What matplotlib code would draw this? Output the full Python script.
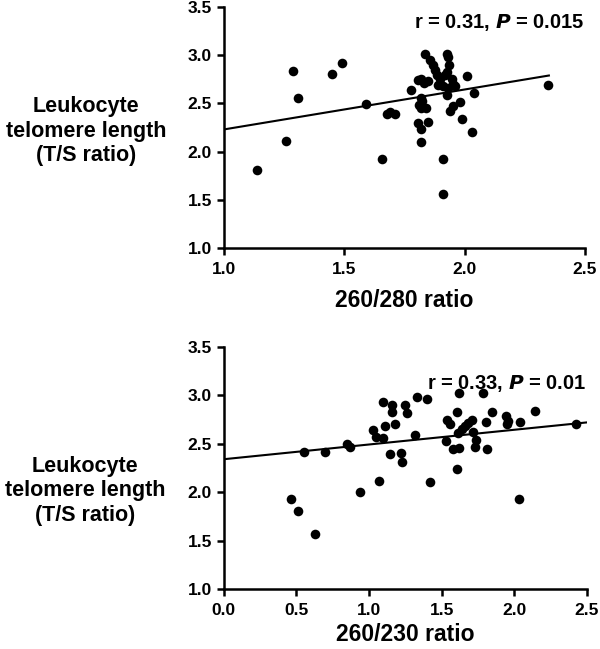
import matplotlib
matplotlib.use("Agg")
from matplotlib import pyplot as plt

plt.rcParams['font.family'] = ['Liberation Sans', 'DejaVu Sans']
plt.rcParams['font.weight'] = 'bold'

# Panel A: 260/280 ratio vs telomere length
x280 = [1.139, 1.258, 1.288, 1.307, 1.449, 1.489, 1.589, 1.656, 1.676, 1.69,
        1.71, 1.777, 1.807, 1.82, 1.83, 1.85, 1.817, 1.825, 1.81, 1.82,
        1.84, 1.807, 1.817, 1.85, 1.817, 1.835, 1.856, 1.87, 1.877, 1.886,
        1.897, 1.89, 1.91, 1.925, 1.93, 1.936, 1.925, 1.918, 1.946, 1.953,
        1.932, 1.927, 1.96, 1.909, 1.909, 1.94, 1.95, 1.98, 1.99, 2.008,
        2.03, 2.04, 2.348]
y280 = [1.81, 2.11, 2.84, 2.56, 2.81, 2.92, 2.49, 1.92, 2.39, 2.41,
        2.39, 2.64, 2.74, 2.75, 2.71, 2.73, 2.56, 2.53, 2.48, 2.45,
        2.45, 2.30, 2.23, 2.31, 2.10, 3.01, 2.95, 2.90, 2.85, 2.80,
        2.75, 2.69, 2.68, 3.01, 2.98, 2.90, 2.83, 2.80, 2.75, 2.70,
        2.66, 2.59, 2.68, 1.92, 1.56, 2.42, 2.47, 2.52, 2.34, 2.78,
        2.20, 2.61, 2.69]
fit280_x = [1.0, 2.35]
fit280_y = [2.23, 2.79]

# Panel B: 260/230 ratio vs telomere length
x230 = [0.466, 0.508, 0.63, 0.549, 0.696, 0.846, 0.869, 0.937, 1.025, 1.048,
        1.096, 1.098, 1.068, 1.112, 1.147, 1.16, 1.158, 1.181, 1.22, 1.227,
        1.248, 1.259, 1.319, 1.33, 1.397, 1.418, 1.528, 1.54, 1.558, 1.581,
        1.608, 1.608, 1.623, 1.615, 1.623, 1.638, 1.661, 1.684, 1.707, 1.714,
        1.737, 1.73, 1.783, 1.806, 1.81, 1.85, 1.942, 1.96, 1.953, 2.04,
        2.034, 2.14, 2.424]
y230 = [1.925, 1.81, 1.57, 2.41, 2.41, 2.50, 2.47, 2.00, 2.64, 2.57,
        2.93, 2.56, 2.12, 2.68, 2.39, 2.90, 2.83, 2.70, 2.40, 2.31,
        2.90, 2.82, 2.59, 2.98, 2.96, 2.10, 2.53, 2.74, 2.70, 2.45,
        2.24, 2.83, 3.02, 2.61, 2.46, 2.65, 2.68, 2.71, 2.75, 2.62,
        2.54, 2.47, 3.02, 2.72, 2.45, 2.83, 2.79, 2.73, 2.70, 2.72,
        1.925, 2.84, 2.70]
fit230_x = [0.0, 2.5]
fit230_y = [2.34, 2.72]

yticks = [1.0, 1.5, 2.0, 2.5, 3.0, 3.5]
ylab = "Leukocyte\ntelomere length\n(T/S ratio)"

fig = plt.figure(figsize=(6, 6.49), dpi=100)
ax1 = fig.add_axes([0.373, 0.618, 0.602, 0.371])
ax2 = fig.add_axes([0.373, 0.0925, 0.605, 0.373])

panels = [
    (ax1, x280, y280, fit280_x, fit280_y, [1.0, 2.5], [1.0, 1.5, 2.0, 2.5],
     "260/280 ratio", r"r = 0.31, $\bf{\it{P}}$ = 0.015", 0.485, 0.935, 9),
    (ax2, x230, y230, fit230_x, fit230_y, [0.0, 2.5], [0.0, 0.5, 1.0, 1.5, 2.0, 2.5],
     "260/230 ratio", r"r = 0.33, $\bf{\it{P}}$ = 0.01", 0.405, 0.848, 4),
]

for ax, xs, ys, fx, fy, xlim, xt, xl, note, ly, ny, lp in panels:
    ax.scatter(xs, ys, s=48, color='black', zorder=3, linewidths=0)
    ax.plot(fx, fy, color='black', lw=1.5)
    ax.set_xlim(xlim)
    ax.set_ylim(1.0, 3.5)
    ax.set_xticks(xt)
    ax.set_xticklabels(["%.1f" % v for v in xt])
    ax.set_yticks(yticks)
    ax.set_yticklabels(["%.1f" % v for v in yticks])
    for s in ['top', 'right']:
        ax.spines[s].set_visible(False)
    for s in ['left', 'bottom']:
        ax.spines[s].set_linewidth(1.8)
    ax.tick_params(width=1.8, length=5, labelsize=12.5, direction='out')
    ax.tick_params(axis='x', pad=5)
    ax.set_xlabel(xl, fontsize=16.5, fontweight='bold', labelpad=lp)
    ax.text(-0.382, ly, ylab, transform=ax.transAxes, ha='center', va='center',
            fontsize=15.5, fontweight='bold', linespacing=1.2)
    ax.text(1.0, ny, note, transform=ax.transAxes, ha='right', va='center',
            fontsize=14.5, fontweight='bold')

fig.savefig("out.png", dpi=100)
